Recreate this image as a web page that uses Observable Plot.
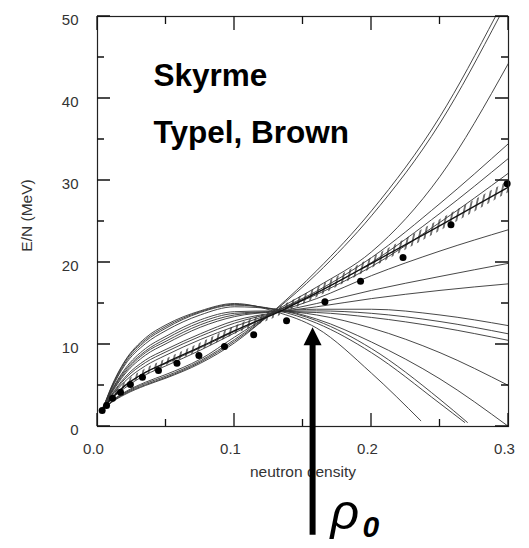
<!DOCTYPE html>
<html><head><meta charset="utf-8">
<script src="https://cdn.jsdelivr.net/npm/d3@7"></script>
<script src="https://cdn.jsdelivr.net/npm/@observablehq/plot@0.6"></script>
<style>body{margin:0;background:#fff}svg{display:block}</style>
</head><body><div id="chart"></div>
<script>
// neutron density grid (fm^-3) on which the Skyrme curves are read
const densityGrid = [0.004, 0.01, 0.02, 0.035, 0.05, 0.075, 0.1, 0.13, 0.16, 0.2, 0.25, 0.3];
// Skyrme E/N curves (MeV); last value of each sits at that curve's end density
const skA = [2.0, 2.9, 3.9, 5.0, 5.9, 7.7, 10.2, 14.3, 19.0, 26.3, 37.8, 50];
const skB = [2.0, 2.95, 4.0, 5.1, 6.0, 7.85, 10.4, 14.2, 18.6, 25.7, 37.0, 50];
const skC = [2.05, 3.0, 4.1, 5.25, 6.15, 8.0, 10.6, 14.1, 17.0, 21.3, 30.5, 44.3];
const skD = [2.05, 3.05, 4.2, 5.4, 6.35, 8.2, 10.9, 14.0, 16.5, 20.6, 27.2, 34.5];
const skE = [2.1, 3.3, 4.7, 6.3, 7.4, 9.3, 11.4, 14.0, 16.3, 20.0, 26.0, 32.7];
const skF = [2.1, 3.4, 4.9, 6.6, 7.7, 9.6, 11.6, 14.0, 16.1, 19.5, 24.9, 30.9];
const skG = [2.15, 3.6, 5.5, 7.4, 8.7, 10.6, 12.2, 13.9, 15.6, 18.4, 21.4, 24.0];
const skH = [2.15, 3.7, 5.8, 7.8, 9.1, 11.0, 12.6, 13.9, 15.0, 16.6, 18.3, 19.9];
const skI = [2.2, 3.8, 6.0, 8.1, 9.4, 11.3, 12.9, 13.9, 14.6, 15.6, 16.6, 17.4];
const skJ = [2.2, 4.0, 6.4, 8.7, 10.1, 12.1, 13.4, 14.0, 14.3, 14.3, 13.6, 12.3];
const skK = [2.2, 4.1, 6.6, 9.0, 10.4, 12.4, 13.6, 14.0, 14.1, 13.8, 12.8, 11.3];
const skL = [2.2, 4.2, 6.8, 9.2, 10.7, 12.7, 13.8, 14.0, 13.9, 13.3, 12.1, 10.5];
const skM = [2.2, 4.3, 7.0, 9.5, 11.0, 13.0, 14.0, 14.1, 13.6, 12.0, 9.0, 5.0];
const skN = [2.2, 4.5, 7.5, 10.1, 11.7, 13.6, 14.6, 14.3, 13.1, 10.3, 5.8, 0.0];
const skO = [2.2, 4.6, 7.7, 10.4, 12.0, 13.9, 14.8, 14.3, 12.9, 9.5, 3.3, 0.5];
const skP = [2.2, 4.7, 7.9, 10.6, 12.2, 14.0, 14.9, 14.2, 12.6, 9.0, 2.8, 0.5];
const skQ = [2.2, 4.8, 8.0, 10.8, 12.4, 14.1, 15.0, 14.0, 12.0, 6.5, 0.7];
const skyrmeCurves = [skA, skB, skC, skD, skE, skF, skG, skH, skI, skJ, skK, skL, skM, skN, skO, skP, skQ];
const skyrmeEndDensity = [0.2905, 0.2934, 0.3, 0.3, 0.3, 0.3, 0.3, 0.3, 0.3, 0.3, 0.3, 0.3, 0.3, 0.3, 0.27, 0.268, 0.236];

// Typel-Brown band (MeV) on densityGrid
const tbCenter = [2.2, 3.4, 5.0, 6.6, 7.8, 9.7, 11.7, 13.8, 16.3, 19.9, 24.5, 29.2];
const tbLow    = [2.0, 3.1, 4.65, 6.2, 7.4, 9.25, 11.2, 13.25, 15.7, 19.25, 23.8, 28.5];
const tbHigh   = [2.4, 3.7, 5.35, 7.0, 8.2, 10.15, 12.2, 14.35, 16.9, 20.55, 25.2, 29.9];

// data points
const pointDensity = [0.0034, 0.0066, 0.011, 0.0168, 0.024, 0.0328, 0.0445, 0.058, 0.074, 0.0927, 0.114, 0.138, 0.166, 0.192, 0.223, 0.258, 0.299];
const pointEnergy  = [1.95, 2.56, 3.45, 4.18, 5.12, 6.0, 6.83, 7.72, 8.66, 9.76, 11.2, 12.9, 15.2, 17.7, 20.6, 24.6, 29.6];

// axes
const xDomain = [0, 0.3];
const yDomain = [0, 50];
const xMajorTicks = [0, 0.1, 0.2, 0.3];
const xMinorTicks = [0.05, 0.15, 0.25];
const yMajorTicks = [0, 10, 20, 30, 40, 50];
const yMinorTicks = [5, 15, 25, 35, 45];

// saturation density arrow: density, tip energy, tail energy (below the axis)
const rho0 = [0.157];
const rho0Energy = [12.1];
const rho0TailEnergy = [-11.3];

const skyrmeRows = skyrmeCurves.flatMap((vals, i) =>
  vals.map((e, j) => ({id: i, x: j === vals.length - 1 ? skyrmeEndDensity[i] : densityGrid[j], y: e})));
const tbRows = densityGrid.map((x, j) => ({x, c: tbCenter[j], lo: tbLow[j], hi: tbHigh[j]}));
const pointRows = pointDensity.map((x, j) => ({x, y: pointEnergy[j]}));

const M = {left: 97, right: 21, top: 16, bottom: 122};
const WIDTH = 529, HEIGHT = 548;
const ns = "http://www.w3.org/2000/svg";

const arrowHead = {draw(ctx) { ctx.moveTo(0, 0); ctx.lineTo(-9, 18); ctx.lineTo(9, 18); ctx.closePath(); }};
const hatchDefs = () => {
  const defs = document.createElementNS(ns, "defs");
  const p = document.createElementNS(ns, "pattern");
  p.setAttribute("id", "tbHatch"); p.setAttribute("patternUnits", "userSpaceOnUse");
  p.setAttribute("width", "5.5"); p.setAttribute("height", "20");
  p.setAttribute("patternTransform", "rotate(12)");
  const l = document.createElementNS(ns, "line");
  l.setAttribute("x1", "2.75"); l.setAttribute("x2", "2.75"); l.setAttribute("y1", "0"); l.setAttribute("y2", "20");
  l.setAttribute("stroke", "#111"); l.setAttribute("stroke-width", "1.1");
  p.appendChild(l); defs.appendChild(p);
  return defs;
};
// inward ticks on all four sides, positioned through the x/y scales
const tickMarks = (index, scales) => {
  const sx = scales && scales.x ? scales.x : d3.scaleLinear(xDomain, [M.left, WIDTH - M.right]);
  const sy = scales && scales.y ? scales.y : d3.scaleLinear(yDomain, [HEIGHT - M.bottom, M.top]);
  const [xl, xr] = xDomain.map(sx), [yb, yt] = yDomain.map(sy);
  const parts = [];
  xMajorTicks.forEach(v => { const px = sx(v); parts.push(`M${px},${yb}v-13`, `M${px},${yt}v14`); });
  xMinorTicks.forEach(v => { const px = sx(v); parts.push(`M${px},${yb}v-7`, `M${px},${yt}v8`); });
  yMajorTicks.forEach(v => { const py = sy(v); parts.push(`M${xl},${py}h13`, `M${xr},${py}h-13`); });
  yMinorTicks.forEach(v => { const py = sy(v); parts.push(`M${xl},${py}h7`, `M${xr},${py}h-7`); });
  const path = document.createElementNS(ns, "path");
  path.setAttribute("d", parts.join(""));
  path.setAttribute("stroke", "#111");
  path.setAttribute("stroke-width", "1.3");
  path.setAttribute("fill", "none");
  return path;
};

const chart = Plot.plot({
  width: WIDTH, height: HEIGHT,
  marginLeft: M.left, marginRight: M.right, marginTop: M.top, marginBottom: M.bottom,
  x: {domain: xDomain},
  y: {domain: yDomain},
  style: {fontFamily: "'Liberation Sans', Arial, sans-serif", background: "#fff"},
  marks: [
    hatchDefs,
    Plot.areaY(tbRows, {x: "x", y1: "lo", y2: "hi", fill: "url(#tbHatch)", curve: "monotone-x"}),
    Plot.line(skyrmeRows, {x: "x", y: "y", z: "id", curve: "monotone-x", stroke: "#333", strokeWidth: 0.9}),
    Plot.line(tbRows, {x: "x", y: "c", curve: "monotone-x", stroke: "#111", strokeWidth: 1.3}),
    Plot.dot(pointRows, {x: "x", y: "y", r: 3.5, fill: "#000"}),
    Plot.frame({stroke: "#222", strokeWidth: 1.2}),
    tickMarks,
    // tick labels
    Plot.axisX(xMajorTicks, {anchor: "bottom", tickSize: 0, tickPadding: 17, tickFormat: d3.format(".1f"), fontSize: 15, dx: -4, label: null, fill: "#333"}),
    Plot.axisY(yMajorTicks, {anchor: "left", tickSize: 0, tickPadding: 19, fontSize: 15, dy: 4, label: null, fill: "#333"}),
    Plot.text(["neutron density"], {frameAnchor: "bottom", dy: 46, lineAnchor: "middle", textAnchor: "middle", fontSize: 15.5, fill: "#333"}),
    Plot.text(["E/N (MeV)"], {frameAnchor: "left", rotate: -90, dx: -70, dy: -6, lineAnchor: "middle", textAnchor: "middle", fontSize: 15.5, fill: "#333"}),
    Plot.text(["Skyrme"], {frameAnchor: "top-left", dx: 56, dy: 47, textAnchor: "start", lineAnchor: "top", fontSize: 31.5, fontWeight: "bold", fill: "#000"}),
    Plot.text(["Typel, Brown"], {frameAnchor: "top-left", dx: 56, dy: 104.5, textAnchor: "start", lineAnchor: "top", fontSize: 31.5, fontWeight: "bold", fill: "#000"}),
    Plot.ruleX(rho0, {x: d => d, y1: (d, i) => rho0TailEnergy[i], y2: (d, i) => rho0Energy[i], dy: 16, stroke: "#000", strokeWidth: 6}),
    Plot.dot(rho0, {x: d => d, y: (d, i) => rho0Energy[i], symbol: arrowHead, fill: "#000", stroke: "none"}),
    Plot.text(["ρ"], {x: d => rho0[0], frameAnchor: "bottom", dx: 18, dy: 67, textAnchor: "start", lineAnchor: "top", fontSize: 50, fontStyle: "italic", fill: "#000"}),
    Plot.text(["0"], {x: d => rho0[0], frameAnchor: "bottom", dx: 50, dy: 89, textAnchor: "start", lineAnchor: "top", fontSize: 30, fontStyle: "italic", fontWeight: "bold", fill: "#000"})
  ]
});
document.getElementById("chart").appendChild(chart);
</script>
</body></html>
